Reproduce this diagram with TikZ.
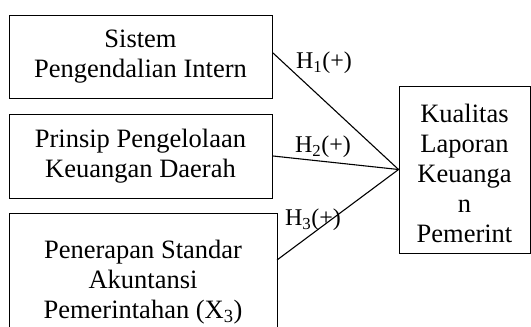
\documentclass[tikz,border=0pt]{standalone}
\usepackage{fontspec}
\setmainfont{Liberation Serif}
\begin{document}
\begin{tikzpicture}[x=1pt,y=-1pt,
  box/.style={draw,line width=0.9pt,inner sep=0pt},
  txt/.style={inner sep=0pt,align=center,font=\fontsize{26.5}{30}\selectfont},
  hlab/.style={inner sep=0pt,font=\fontsize{24}{28}\selectfont},
  conn/.style={line width=1.1pt}]
\useasboundingbox (0,0) rectangle (531,327);
\node[box,minimum width=263,minimum height=83] (b1) at (140.5,56.5) {};
\node[box,minimum width=263,minimum height=84] (b2) at (140.5,156) {};
\node[box,minimum width=268,minimum height=132] (b3) at (143,279) {};
\node[box,minimum width=131,minimum height=167] (k) at (464.5,169.5) {};
\node[txt] (t1) at (140.5,56.5) {Sistem\\Pengendalian Intern};
\node[txt] (t2) at (140.5,156) {Prinsip Pengelolaan\\Keuangan Daerah};
\node[txt] (t3) at (143,282) {Penerapan Standar\\Akuntansi\\Pemerintahan (X\textsubscript{3})};
\node[txt] (tk) at (464.5,173) {Kualitas\\Laporan\\Keuanga\\n\\Pemerint};
\coordinate (s1) at (273,53);
\coordinate (s2) at (273,156);
\coordinate (s3) at (277,260);
\draw[conn] (s1) -- (k.west);
\draw[conn] (s2) -- (k.west);
\draw[conn] (s3) -- (k.west);
\node[hlab] (h1) at (324,63) {H\textsubscript{1}(+)};
\node[hlab] (h2) at (323,147) {H\textsubscript{2}(+)};
\node[hlab] (h3) at (313,220) {H\textsubscript{3}(+)};
\end{tikzpicture}
\end{document}
